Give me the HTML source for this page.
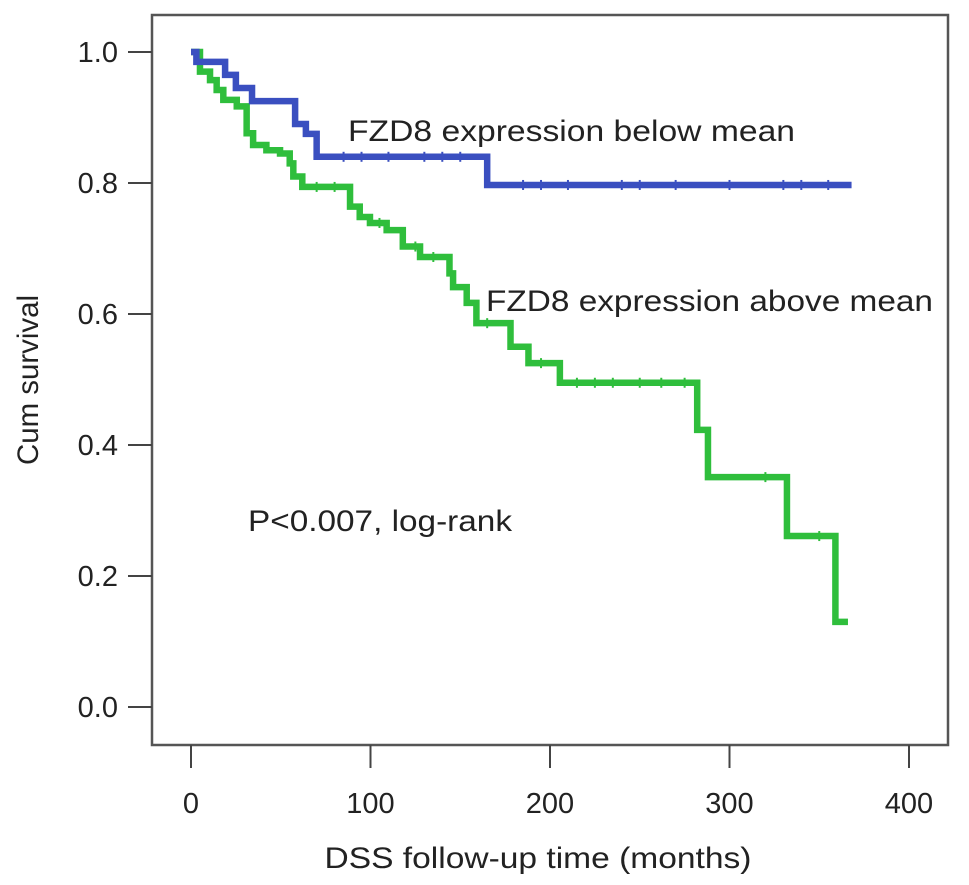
<!DOCTYPE html>
<html><head><meta charset="utf-8"><style>
body{margin:0;background:#fff;}
svg{display:block;font-family:"Liberation Sans",Arial,sans-serif;}
</style></head><body>
<svg id="chart" width="969" height="885" viewBox="0 0 969 885" xmlns="http://www.w3.org/2000/svg"></svg>
<script>
const xTicks=[0,100,200,300,400];
const yTicks=[0.0,0.2,0.4,0.6,0.8,1.0];
const blueTimes=[0,3,19,25,34,58,64,70,165,368];
const blueSurv=[1.0,0.985,0.965,0.945,0.925,0.89,0.875,0.84,0.797,0.797];
const blueCensor=[85,95,110,130,140,150,185,195,210,240,250,270,300,330,340,355];
const greenTimes=[0,5,10.6,14.3,18,25.5,31,34.6,42,49.6,55,57,62,88.6,94,99.7,109,118,127.6,144,146,153.6,159,178,188,205.5,282,288,332,359,366];
const greenSurv=[1.0,0.97,0.957,0.942,0.927,0.917,0.876,0.858,0.85,0.845,0.83,0.81,0.794,0.764,0.748,0.739,0.728,0.703,0.687,0.662,0.641,0.617,0.586,0.55,0.525,0.495,0.423,0.351,0.261,0.13,0.13];
const greenCensor=[70,80,105,125,135,165,195,215,225,235,250,262,275,320,350];
const NS='http://www.w3.org/2000/svg';
const svg=document.getElementById('chart');
const X=t=>191+t*1.795;
const Y=s=>707-s*655;
function mk(tag,attrs,parent){const e=document.createElementNS(NS,tag);for(const k in attrs)e.setAttribute(k,attrs[k]);(parent||svg).appendChild(e);return e;}
const frame=mk('rect',{x:152,y:15,width:796,height:730,fill:'none',stroke:'#555',"stroke-width":2.5});


xTicks.forEach(v=>{
  const l=mk('line',{x1:X(v),x2:X(v),y1:745,y2:768,stroke:'#444',"stroke-width":2});
  
  
  const t=mk('text',{x:X(v),y:813,"text-anchor":'middle',"font-size":29,fill:'#222'});t.textContent=v;
  
  
});
yTicks.forEach(v=>{
  const l=mk('line',{x1:128,x2:152,y1:Y(v),y2:Y(v),stroke:'#444',"stroke-width":2});
  
  
  const t=mk('text',{x:118,y:Y(v)+10,"text-anchor":'end',"font-size":29,fill:'#222'});t.textContent=v.toFixed(1);
  
  
});
function stepPath(ts,ss){let d='M'+X(ts[0])+','+Y(ss[0]);for(let i=1;i<ts.length;i++){d+=' H'+X(ts[i])+' V'+Y(ss[i]);}return d;}
function survAt(ts,ss,t){let s=ss[0];for(let i=0;i<ts.length;i++){if(ts[i]<=t)s=ss[i];}return s;}
function curve(ts,ss,cs,color,name){
  const p=mk('path',{d:stepPath(ts,ss),fill:'none',stroke:color,"stroke-width":6.5,"stroke-linejoin":'miter'});
  
  
  cs.forEach(t=>{
    const s=survAt(ts,ss,t);
    const c=mk('line',{x1:X(t),x2:X(t),y1:Y(s)-5,y2:Y(s)+5,stroke:color,"stroke-width":2});
    
    
  });
}
curve(greenTimes,greenSurv,greenCensor,'#2fbe3c','above-mean-curve');
curve(blueTimes,blueSurv,blueCensor,'#3a4fc0','below-mean-curve');
function txt(x,y,s,size,name,extra){const t=mk('text',Object.assign({x:x,y:y,"font-size":size,fill:'#222'},extra||{}));t.textContent=s;
  
  return t;}
txt(348,141,'FZD8 expression below mean',30,'label-below-mean',{textLength:447,lengthAdjust:'spacingAndGlyphs'});
txt(486,311,'FZD8 expression above mean',30,'label-above-mean',{textLength:447,lengthAdjust:'spacingAndGlyphs'});
txt(248,531,'P<0.007, log-rank',30,'p-value-label',{textLength:264,lengthAdjust:'spacingAndGlyphs'});
txt(538,868,'DSS follow-up time (months)',30,'x-axis-title',{"text-anchor":'middle',textLength:427,lengthAdjust:'spacingAndGlyphs'});
txt(0,0,'Cum survival',30,'y-axis-title',{"text-anchor":'middle',textLength:170,lengthAdjust:'spacingAndGlyphs',transform:'translate(38,380) rotate(-90)'});
</script>
</body></html>
